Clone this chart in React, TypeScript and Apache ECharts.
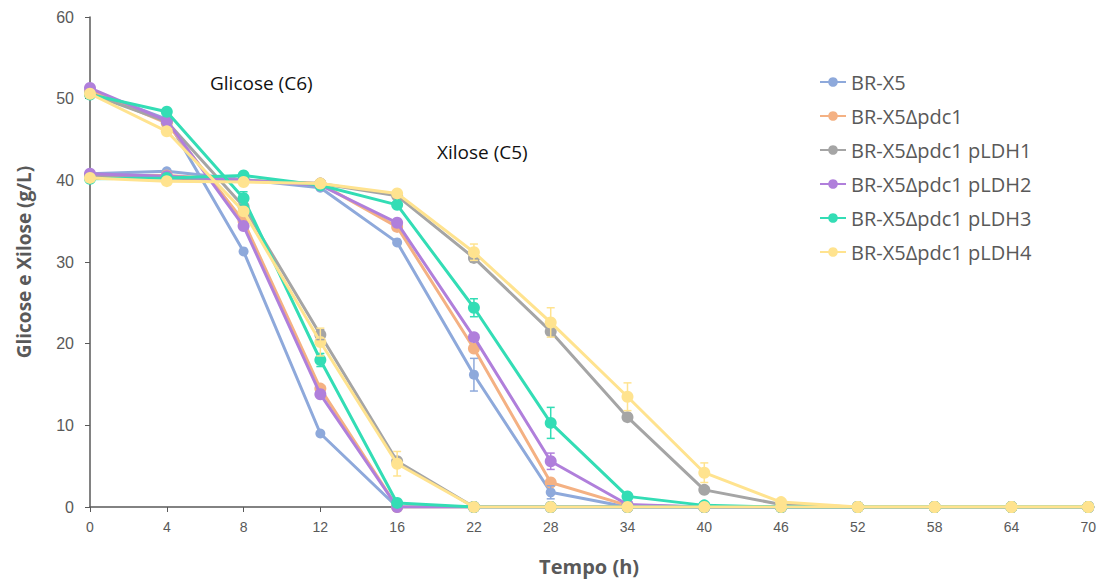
import React, { useEffect, useRef } from "react";
import * as echarts from "echarts";

const hours = ["0", "4", "8", "12", "16", "22", "28", "34", "40", "46", "52", "58", "64", "70"];
const strains = [
  "BR-X5",
  "BR-X5Δpdc1",
  "BR-X5Δpdc1 pLDH1",
  "BR-X5Δpdc1 pLDH2",
  "BR-X5Δpdc1 pLDH3",
  "BR-X5Δpdc1 pLDH4",
];
const colors = ["#8EA9DB", "#F4B183", "#A5A5A5", "#B07FDB", "#33DDB5", "#FFE38F"];

// Glucose (C6), g/L
const glcBRX5 = [51.0, 47.5, 31.3, 9.0, 0, 0, 0, 0, 0, 0, 0, 0, 0, 0];
const glcPdc1 = [51.0, 47.0, 35.0, 14.5, 0, 0, 0, 0, 0, 0, 0, 0, 0, 0];
const glcLDH1 = [50.6, 47.2, 36.8, 21.1, 5.6, 0, 0, 0, 0, 0, 0, 0, 0, 0];
const glcLDH2 = [51.3, 47.3, 34.4, 13.8, 0, 0, 0, 0, 0, 0, 0, 0, 0, 0];
const glcLDH3 = [50.5, 48.4, 37.8, 18.0, 0.5, 0, 0, 0, 0, 0, 0, 0, 0, 0];
const glcLDH4 = [50.6, 46.0, 36.2, 20.2, 5.3, 0, 0, 0, 0, 0, 0, 0, 0, 0];

// Xylose (C5), g/L
const xylBRX5 = [40.8, 41.1, 40.1, 39.1, 32.4, 16.2, 1.8, 0, 0, 0, 0, 0, 0, 0];
const xylPdc1 = [40.6, 40.6, 40.0, 39.6, 34.3, 19.4, 3.0, 0.2, 0, 0, 0, 0, 0, 0];
const xylLDH1 = [40.5, 40.3, 40.0, 39.6, 38.1, 30.5, 21.5, 11.0, 2.1, 0.3, 0, 0, 0, 0];
const xylLDH2 = [40.8, 40.5, 40.0, 39.4, 34.8, 20.8, 5.6, 0.3, 0, 0, 0, 0, 0, 0];
const xylLDH3 = [40.2, 40.3, 40.6, 39.4, 37.0, 24.4, 10.3, 1.3, 0.2, 0, 0, 0, 0, 0];
const xylLDH4 = [40.3, 39.9, 39.8, 39.6, 38.4, 31.2, 22.6, 13.5, 4.2, 0.6, 0, 0, 0, 0];

const glucose = [glcBRX5, glcPdc1, glcLDH1, glcLDH2, glcLDH3, glcLDH4];
const xylose = [xylBRX5, xylPdc1, xylLDH1, xylLDH2, xylLDH3, xylLDH4];

// error bars: [hour index, mean, half-width]
const errBRX5 = [[5, 16.2, 2.0], [6, 1.8, 0.8]];
const errPdc1: number[][] = [];
const errLDH1 = [[3, 21.1, 0.6]];
const errLDH2 = [[6, 5.6, 1.0]];
const errLDH3 = [[2, 37.8, 0.8], [3, 18.0, 0.8], [5, 24.4, 1.1], [6, 10.3, 1.9]];
const errLDH4 = [[3, 20.2, 1.7], [4, 5.3, 1.5], [5, 31.2, 1.0], [6, 22.6, 1.8], [7, 13.5, 1.7], [8, 4.2, 1.2]];
const errors = [errBRX5, errPdc1, errLDH1, errLDH2, errLDH3, errLDH4];

const markerSizes = [10, 12, 12, 12, 12, 12];

export default function App() {
  const ref = useRef<HTMLDivElement>(null);
  useEffect(() => {
    document.body.style.margin = "0";
    document.body.style.overflow = "hidden";
    if (!ref.current) return;
    const chart = echarts.init(ref.current, null, { renderer: "svg" });
    const lineSeries: any[] = [];
    [glucose, xylose].forEach((group) => {
      group.forEach((vals, i) => {
        lineSeries.push({
          name: strains[i],
          type: "line",
          data: vals,
          symbol: "circle",
          symbolSize: markerSizes[i],
          lineStyle: { width: 3, color: colors[i] },
          itemStyle: { color: colors[i] },
          z: 2 + i,
        });
      });
    });
    const errSeries = errors.map((e, i) => ({
      name: strains[i],
      type: "custom",
      data: e,
      z: 10 + i,
      renderItem: (params: any, api: any) => {
        const x = api.value(0);
        const m = api.value(1);
        const d = api.value(2);
        const top = api.coord([x, m + d]);
        const bot = api.coord([x, m - d]);
        const w = 4;
        const st = { stroke: colors[i], lineWidth: 1.5 };
        return {
          type: "group",
          children: [
            { type: "line", shape: { x1: top[0], y1: top[1], x2: bot[0], y2: bot[1] }, style: st },
            { type: "line", shape: { x1: top[0] - w, y1: top[1], x2: top[0] + w, y2: top[1] }, style: st },
            { type: "line", shape: { x1: bot[0] - w, y1: bot[1], x2: bot[0] + w, y2: bot[1] }, style: st },
          ],
        };
      },
    }));
    chart.setOption({
      animation: false,
      grid: { left: 90, right: 9, top: 17, bottom: 78 },
      legend: {
        data: strains,
        orient: "vertical",
        left: 814,
        top: 67,
        itemGap: 14,
        itemWidth: 26,
        itemHeight: 12,
        textStyle: { fontSize: 20, color: "#595959", fontFamily: "Open Sans", lineHeight: 20 },
      },
      xAxis: {
        type: "category",
        data: hours,
        boundaryGap: false,
        name: "Tempo (h)",
        nameLocation: "middle",
        nameGap: 49,
        nameTextStyle: { fontSize: 20, fontWeight: "bold", color: "#595959", fontFamily: "Open Sans" },
        axisLine: { lineStyle: { color: "#595959", width: 1.5 } },
        axisTick: { show: true, alignWithLabel: true, length: 5, lineStyle: { color: "#595959" } },
        axisLabel: { color: "#595959", fontSize: 14, margin: 13, fontFamily: "Liberation Sans" },
        splitLine: { show: false },
      },
      yAxis: {
        type: "value",
        min: 0,
        max: 60,
        interval: 10,
        name: "Glicose e Xilose (g/L)",
        nameLocation: "middle",
        nameGap: 57,
        nameTextStyle: { fontSize: 19, fontWeight: "bold", color: "#595959", fontFamily: "Open Sans" },
        axisLine: { show: true, lineStyle: { color: "#595959", width: 1.5 } },
        axisTick: { show: true, length: 5, lineStyle: { color: "#595959" } },
        axisLabel: { color: "#595959", fontSize: 16, margin: 16, fontFamily: "Liberation Sans" },
        splitLine: { show: false },
      },
      graphic: [
        { type: "text", left: 210, top: 73, style: { text: "Glicose (C6)", fontSize: 19, fill: "#111", fontFamily: "Open Sans" } },
        { type: "text", left: 437, top: 142, style: { text: "Xilose (C5)", fontSize: 19, fill: "#111", fontFamily: "Open Sans" } },
      ],
      series: [...lineSeries, ...errSeries],
    });
    return () => chart.dispose();
  }, []);
  return <div ref={ref} style={{ width: 1099, height: 585 }} />;
}
